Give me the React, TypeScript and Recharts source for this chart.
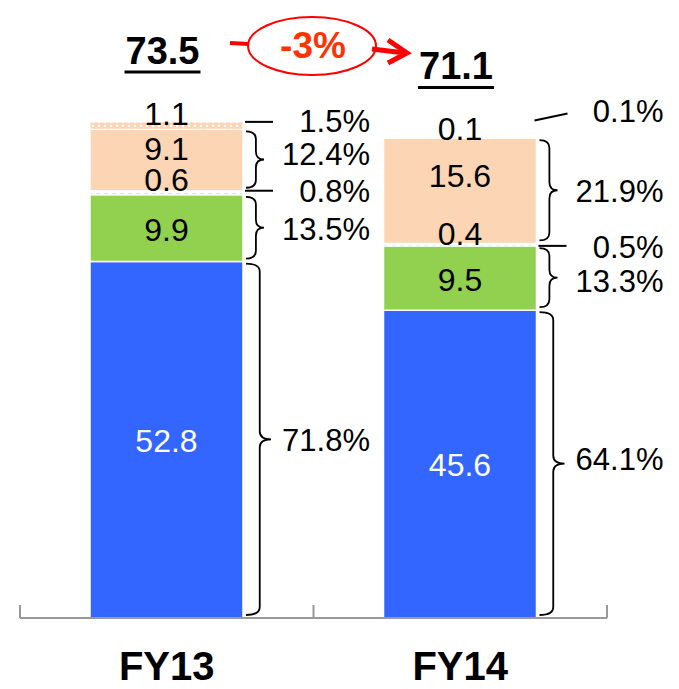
import { Bar, BarChart, LabelList, XAxis, YAxis } from "recharts";

const years = ["FY13", "FY14"];
const blueValues = [52.8, 45.6];
const greenValues = [9.9, 9.5];
const minorValues = [0.6, 0.4];
const peachValues = [9.1, 15.6];
const topValues = [1.1, 0.1];
const totals = [73.5, 71.1];

const blueShares = ["71.8%", "64.1%"];
const greenShares = ["13.5%", "13.3%"];
const minorShares = ["0.8%", "0.5%"];
const peachShares = ["12.4%", "21.9%"];
const topShares = ["1.5%", "0.1%"];
const changeText = "-3%";

const data = years.map((year, i) => ({
  year,
  blue: blueValues[i],
  green: greenValues[i],
  minor: minorValues[i],
  peach: peachValues[i],
  top: topValues[i],
  total: totals[i],
}));

const FONT = "Arial, 'Liberation Sans', sans-serif";
const VALUE_SIZE = 32;
const SHARE_SIZE = 31;

type Note = "brace" | "line" | "slant";

function box(p: any) {
  const vb = p.viewBox ?? {};
  return {
    x: Number(vb.x ?? p.x),
    y: Number(vb.y ?? p.y),
    w: Number(vb.width ?? p.width),
    h: Number(vb.height ?? p.height),
    i: Number(p.index ?? 0),
  };
}

function bracePath(x: number, y0: number, y1: number, depth: number) {
  const xm = x + depth * 0.55;
  const tip = x + depth;
  const ym = (y0 + y1) / 2;
  const r = Math.min(8, (y1 - y0) / 4);
  return `M${x},${y0} Q${xm},${y0} ${xm},${y0 + r} L${xm},${ym - r} Q${xm},${ym} ${tip},${ym} Q${xm},${ym} ${xm},${ym + r} L${xm},${y1 - r} Q${xm},${y1} ${x},${y1}`;
}

// labels + side notes for one stacked segment
function segmentLabel(opts: {
  values: number[];
  shares: string[];
  notes: Note[];
  valueDy: number[];
  shareDy: number[];
  lineDy?: number[];
  color?: string;
  below?: { values: number[]; dy: number[] };
  totals?: number[];
}) {
  return (p: any) => {
    const { x, y, w, h, i } = box(p);
    if (!isFinite(x) || !isFinite(y)) return null;
    const right = x + w;
    const cx = x + w / 2;
    const cy = y + h / 2;
    const note = opts.notes[i];
    return (
      <g>
        <text
          x={cx}
          y={cy + opts.valueDy[i] + VALUE_SIZE * 0.358}
          textAnchor="middle"
          fontFamily={FONT}
          fontSize={VALUE_SIZE}
          fill={opts.color ?? "#000"}
        >
          {opts.values[i]}
        </text>
        {opts.below && (
          <text
            x={cx}
            y={y + h + opts.below.dy[i] + VALUE_SIZE * 0.358}
            textAnchor="middle"
            fontFamily={FONT}
            fontSize={VALUE_SIZE}
            fill="#000"
          >
            {opts.below.values[i]}
          </text>
        )}
        {note === "brace" && (
          <path
            d={bracePath(right + 3, y + 2, y + h - 3, h > 200 ? 25 : 18)}
            fill="none"
            stroke="#000"
            strokeWidth={1.8}
          />
        )}
        {note === "line" && (
          <line
            x1={right + 2}
            x2={right + 30}
            y1={y + (opts.lineDy?.[i] ?? 0)}
            y2={y + (opts.lineDy?.[i] ?? 0)}
            stroke="#000"
            strokeWidth={2}
          />
        )}
        {note === "slant" && (
          <line x1={right - 2} y1={y - 17} x2={right + 31} y2={y - 24} stroke="#000" strokeWidth={2} />
        )}
        <text
          x={right + 127}
          y={cy + opts.shareDy[i] + SHARE_SIZE * 0.358}
          textAnchor="end"
          fontFamily={FONT}
          fontSize={SHARE_SIZE}
          fill="#000"
        >
          {opts.shares[i]}
        </text>
        {opts.totals && (
          <g>
            <text
              x={cx - 4}
              y={y - 58}
              textAnchor="middle"
              fontFamily={FONT}
              fontWeight="bold"
              fontSize={38}
              fill="#000"
            >
              {opts.totals[i]}
            </text>
            <line x1={cx - 42} x2={cx + 34} y1={y - 50} y2={y - 50} stroke="#000" strokeWidth={3} />
          </g>
        )}
      </g>
    );
  };
}

function YearTick(p: any) {
  const { x, y, payload } = p;
  const idx = p.index ?? payload?.index ?? 0;
  const half = payload?.offset ?? (679 - 20 - 72) / years.length / 2;
  return (
    <g>
      <line x1={x - half} x2={x - half} y1={y - 13} y2={y} stroke="#999" strokeWidth={2} />
      {idx === years.length - 1 && (
        <line x1={x + half} x2={x + half} y1={y - 13} y2={y} stroke="#999" strokeWidth={2} />
      )}
      <text x={x} y={y + 62} textAnchor="middle" fontFamily={FONT} fontWeight="bold" fontSize={40} fill="#000">
        {payload.value}
      </text>
    </g>
  );
}

export default function App() {
  return (
    <div style={{ position: "absolute", left: 0, top: 0, width: 679, height: 689, background: "#fff" }}>
      <svg width={0} height={0} style={{ position: "absolute" }}>
        <defs>
          <pattern id="dots" width={6} height={4} patternUnits="userSpaceOnUse">
            <rect width={6} height={4} fill="#FCD5B5" />
            <circle cx={3} cy={2} r={1.2} fill="#fff" />
          </pattern>
          <pattern id="dashes" width={8} height={4} patternUnits="userSpaceOnUse">
            <rect width={8} height={4} fill="#fff" />
            <line x1={0} x2={4} y1={2} y2={2} stroke="#A9D98A" strokeWidth={1} />
          </pattern>
        </defs>
      </svg>
      <BarChart
        width={679}
        height={689}
        data={data}
        margin={{ top: 78, right: 72, bottom: 0, left: 20 }}
        barSize={153}
      >
        <XAxis
          dataKey="year"
          height={71}
          axisLine={{ stroke: "#999", strokeWidth: 2 }}
          tickLine={false}
          tickSize={0}
          tickMargin={0}
          tick={<YearTick />}
          interval={0}
        />
        <YAxis hide domain={[0, 80]} />
        <Bar dataKey="blue" stackId="a" fill="#3366FF" stroke="#fff" strokeWidth={1.5} isAnimationActive={false}>
          <LabelList
            dataKey="blue"
            content={segmentLabel({
              values: blueValues,
              shares: blueShares,
              notes: ["brace", "brace"],
              valueDy: [1, 0],
              shareDy: [0, -5],
              color: "#fff",
            })}
          />
        </Bar>
        <Bar dataKey="green" stackId="a" fill="#92D050" stroke="#fff" strokeWidth={1.5} isAnimationActive={false}>
          <LabelList
            dataKey="green"
            content={segmentLabel({
              values: greenValues,
              shares: greenShares,
              notes: ["brace", "brace"],
              valueDy: [1, 1],
              shareDy: [1, 3],
            })}
          />
        </Bar>
        <Bar dataKey="minor" stackId="a" fill="url(#dashes)" stroke="#fff" strokeWidth={1} isAnimationActive={false}>
          <LabelList
            dataKey="minor"
            content={(p: any) => {
              const { x, y, w, h, i } = box(p);
              if (!isFinite(x)) return null;
              const right = x + w;
              const lineY = y + [0, 2.5][i];
              const shareY = y + h / 2 + [-2, 2][i] + SHARE_SIZE * 0.358;
              return (
                <g>
                  <line x1={right + 2} x2={right + 30} y1={lineY} y2={lineY} stroke="#000" strokeWidth={2} />
                  <text x={right + 127} y={shareY} textAnchor="end" fontFamily={FONT} fontSize={SHARE_SIZE}>
                    {minorShares[i]}
                  </text>
                </g>
              );
            }}
          />
        </Bar>
        <Bar dataKey="peach" stackId="a" fill="#FCD5B5" stroke="#fff" strokeWidth={1.5} isAnimationActive={false}>
          <LabelList
            dataKey="peach"
            content={segmentLabel({
              values: peachValues,
              shares: peachShares,
              notes: ["brace", "brace"],
              valueDy: [-11.5, -15],
              shareDy: [-6, 0],
              below: { values: minorValues, dy: [-10.7, -9.4] },
            })}
          />
        </Bar>
        <Bar dataKey="top" stackId="a" fill="url(#dots)" stroke="#fff" strokeWidth={1} isAnimationActive={false}>
          <LabelList
            dataKey="top"
            content={segmentLabel({
              values: topValues,
              shares: topShares,
              notes: ["line", "slant"],
              valueDy: [-11.6, -9],
              shareDy: [-5, -27],
              totals,
            })}
          />
        </Bar>
      </BarChart>
      <svg
        width={679}
        height={689}
        style={{ position: "absolute", left: 0, top: 0, pointerEvents: "none" }}
      >
        <line x1={230} y1={43} x2={249} y2={44} stroke="#FF0000" strokeWidth={4} />
        <ellipse cx={312} cy={46} rx={64} ry={29} fill="none" stroke="#FF0000" strokeWidth={2} />
        <line x1={372} y1={49} x2={405} y2={53} stroke="#FF0000" strokeWidth={5} />
        <polyline points="388,40 407,53 388,63" fill="none" stroke="#FF0000" strokeWidth={5} />
        <text
          x={313}
          y={58}
          textAnchor="middle"
          fontFamily={FONT}
          fontWeight="bold"
          fontSize={37}
          fill="#FF3300"
        >
          {changeText}
        </text>
      </svg>
    </div>
  );
}
